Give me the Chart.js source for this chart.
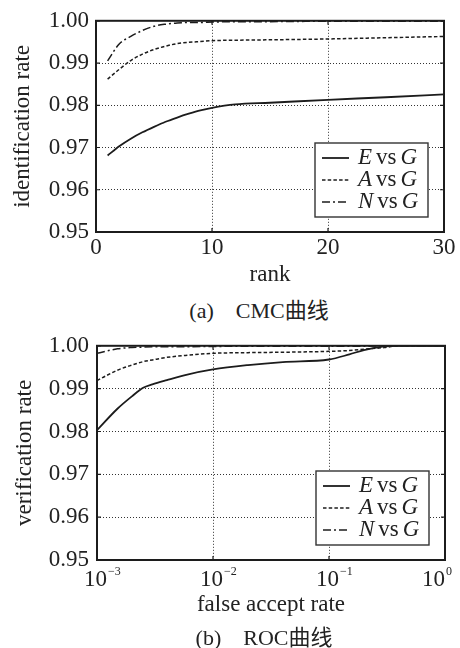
<!DOCTYPE html>
<html>
<head>
<meta charset="utf-8">
<script src="https://cdn.jsdelivr.net/npm/chart.js@4"></script>
<style>
  html, body { margin:0; padding:0; background:#fff; }
  body { width:460px; height:648px; position:relative; overflow:hidden; }
  .box { position:absolute; left:0; width:460px; }
  .cap { position:absolute; transform:translate(-50%,-50%); white-space:nowrap;
         font:22px "Liberation Serif","Noto Sans CJK SC",serif; color:#222; }
</style>
</head>
<body>
<div class="box" style="top:0;height:290px"><canvas id="chart-cmc"></canvas></div>
<div class="cap" style="left:259px;top:308px">(a)&ensp;&ensp;CMC曲线</div>
<div class="box" style="top:324px;height:296px"><canvas id="chart-roc"></canvas></div>
<div class="cap" style="left:264px;top:635px">(b)&ensp;&ensp;ROC曲线</div>

<script>
// ── data ──
const seriesLabels = ['E vs G', 'A vs G', 'N vs G'];
const rateTicks = [0.95, 0.96, 0.97, 0.98, 0.99, 1.00];

// (a) CMC
const ranks = [1, 2, 3, 4, 5, 6, 7, 8, 9, 10, 12, 15, 20, 25, 30];
const cmcE = [0.9681, 0.9703, 0.9721, 0.9736, 0.9749, 0.9761, 0.9771, 0.9780, 0.9788, 0.9794, 0.9802, 0.9806, 0.9813, 0.9819, 0.9826];
const cmcA = [0.9862, 0.9885, 0.9906, 0.9921, 0.9932, 0.9940, 0.9946, 0.9949, 0.9951, 0.9953, 0.9954, 0.9955, 0.9957, 0.9960, 0.9963];
const cmcN = [0.9905, 0.9945, 0.9963, 0.9977, 0.9987, 0.9992, 0.9995, 0.9996, 0.9996, 0.9997, 0.9998, 0.9998, 0.9999, 0.9999, 0.9999];
const rankTicks = [0, 10, 20, 30];

// (b) ROC
const far = [0.001, 0.0015, 0.002, 0.0025, 0.003, 0.004, 0.006, 0.01, 0.02, 0.04, 0.1, 0.15, 0.2, 0.3, 0.4, 1];
const rocE = [0.9803, 0.9853, 0.9882, 0.9902, 0.9910, 0.9920, 0.9933, 0.9945, 0.9955, 0.9962, 0.9968, 0.9980, 0.9990, 0.99985, 1.0, 1.0];
const rocA = [0.9919, 0.9943, 0.9955, 0.9963, 0.9967, 0.9973, 0.9978, 0.99825, 0.9984, 0.9985, 0.9987, 0.9989, 0.9992, 0.9996, 1.0, 1.0];
const rocN = [0.99825, 0.9993, 0.9996, 0.9997, 0.99975, 0.9998, 0.9998, 0.99985, 0.9999, 0.9999, 0.9999, 0.9999, 0.9999, 1.0, 1.0, 1.0];
const farTicks = [0.001, 0.01, 0.1, 1];

// ── styling ──
const SERIF = '"Liberation Serif", "Times New Roman", serif';
const INK = '#1c1c1c';
const lineStyles = [
  { borderDash: [], borderWidth: 1.8 },
  { borderDash: [3.5, 2.2], borderWidth: 1.5 },
  { borderDash: [8, 3, 2, 3], borderWidth: 1.5 },
];

function makeDatasets(xs, ys) {
  return ys.map((vals, i) => ({
    label: seriesLabels[i],
    data: xs.map((x, j) => ({ x, y: vals[j] })),
    borderColor: INK,
    borderWidth: lineStyles[i].borderWidth,
    borderDash: lineStyles[i].borderDash,
    pointRadius: 0,
    fill: false,
    cubicInterpolationMode: 'monotone',
  }));
}

function fixTicks(arr) {
  return s => { s.ticks = arr.map(v => ({ value: v })); };
}

// frame, inner tick marks and the boxed legend
const framePlugin = {
  id: 'frameLegend',
  afterDatasetsDraw(chart) {
    const { ctx, chartArea: a } = chart;
    const w = 113, h = 74;
    const x0 = a.right - 16 - w, y0 = a.bottom - 15 - h;
    ctx.save();
    ctx.fillStyle = '#fff';
    ctx.fillRect(x0, y0, w, h);
    ctx.strokeStyle = '#333';
    ctx.lineWidth = 1.4;
    ctx.strokeRect(x0, y0, w, h);
    chart.data.datasets.forEach((ds, i) => {
      const cy = y0 + 15 + i * 22;
      ctx.strokeStyle = INK;
      ctx.lineWidth = ds.borderWidth;
      ctx.setLineDash(ds.borderDash);
      ctx.beginPath();
      ctx.moveTo(x0 + 7, cy);
      ctx.lineTo(x0 + 34, cy);
      ctx.stroke();
      ctx.setLineDash([]);
      const [p, q] = ds.label.split(' vs ');
      ctx.fillStyle = '#222';
      ctx.textBaseline = 'middle';
      ctx.textAlign = 'left';
      let tx = x0 + 43;
      ctx.font = 'italic 23px ' + SERIF;
      ctx.fillText(p, tx, cy);
      tx += ctx.measureText(p).width + 4;
      ctx.font = '23px ' + SERIF;
      ctx.fillText('vs', tx, cy);
      tx += ctx.measureText('vs').width + 4;
      ctx.font = 'italic 23px ' + SERIF;
      ctx.fillText(q, tx, cy);
    });
    ctx.restore();
  },
  afterDraw(chart) {
    const { ctx, chartArea: a, scales } = chart;
    ctx.save();
    ctx.strokeStyle = INK;
    ctx.lineWidth = 1.2;
    ctx.setLineDash([]);
    ctx.beginPath();
    scales.x.ticks.forEach(t => {
      const px = scales.x.getPixelForValue(t.value);
      ctx.moveTo(px, a.bottom); ctx.lineTo(px, a.bottom - 4);
      ctx.moveTo(px, a.top); ctx.lineTo(px, a.top + 4);
    });
    scales.y.ticks.forEach(t => {
      const py = scales.y.getPixelForValue(t.value);
      ctx.moveTo(a.left, py); ctx.lineTo(a.left + 4, py);
      ctx.moveTo(a.right, py); ctx.lineTo(a.right - 4, py);
    });
    ctx.stroke();
    ctx.lineWidth = 2;
    ctx.strokeRect(a.left, a.top, a.right - a.left, a.bottom - a.top);
    ctx.restore();
  },
};

// 10^n tick labels with a superscript exponent; the last one is pulled inside like the original
const exponentPlugin = {
  id: 'exponents',
  afterDraw(chart) {
    const { ctx, chartArea: a, scales: { x } } = chart;
    ctx.save();
    ctx.fillStyle = '#222';
    ctx.textBaseline = 'middle';
    ctx.textAlign = 'left';
    x.ticks.forEach((t, i) => {
      const e = Math.round(Math.log10(t.value));
      const s = e < 0 ? '\u2212' + (-e) : String(e);
      ctx.font = '23px ' + SERIF;
      const wb = ctx.measureText('10').width;
      ctx.font = '12px ' + SERIF;
      const we = ctx.measureText(s).width;
      const px = x.getPixelForValue(t.value);
      let left = px - wb / 2 - 1.5;
      if (i === x.ticks.length - 1) left = a.right + 7 - wb - we - 1;
      ctx.font = '23px ' + SERIF;
      ctx.fillText('10', left, a.bottom + 20);
      ctx.font = '12px ' + SERIF;
      ctx.fillText(s, left + wb + 1, a.bottom + 11.5);
    });
    ctx.restore();
  },
};

function yScale(title, width, tickPad, titlePad) {
  return {
    min: 0.95, max: 1.0,
    afterBuildTicks: fixTicks(rateTicks),
    afterFit: s => { s.width = width; },
    border: { display: false, dash: [1, 2] },
    grid: { color: '#333', lineWidth: 1, drawTicks: false },
    ticks: { color: '#222', padding: tickPad, font: { family: SERIF, size: 23 }, callback: v => v.toFixed(2) },
    title: { display: true, text: title, color: '#222', padding: { top: titlePad, bottom: 0 }, font: { family: SERIF, size: 23 } },
  };
}

function initCmc() {
  const ctx = document.getElementById('chart-cmc');
  new Chart(ctx, {
    type: 'line',
    data: { datasets: makeDatasets(ranks, [cmcE, cmcA, cmcN]) },
    options: {
      responsive: true, maintainAspectRatio: false, animation: false,
      layout: { padding: { top: 14, right: 16, left: 0, bottom: 0 } },
      plugins: { legend: { display: false }, tooltip: { enabled: false } },
      scales: {
        x: {
          type: 'linear', min: 0, max: 30,
          afterBuildTicks: fixTicks(rankTicks),
          afterFit: s => { s.height = 58; },
          border: { display: false, dash: [1, 2] },
          grid: { color: '#333', lineWidth: 1, drawTicks: false },
          ticks: { color: '#222', padding: 2, maxRotation: 0, font: { family: SERIF, size: 23 } },
          title: { display: true, text: 'rank', color: '#222', padding: { top: 0, bottom: 1 }, font: { family: SERIF, size: 23 } },
        },
        y: yScale('identification rate', 96, 7, 9),
      },
    },
    plugins: [framePlugin],
  });
}

function initRoc() {
  const ctx = document.getElementById('chart-roc');
  new Chart(ctx, {
    type: 'line',
    data: { datasets: makeDatasets(far, [rocE, rocA, rocN]) },
    options: {
      responsive: true, maintainAspectRatio: false, animation: false,
      layout: { padding: { top: 16, right: 15, left: 0, bottom: 0 } },
      plugins: { legend: { display: false }, tooltip: { enabled: false } },
      scales: {
        x: {
          type: 'logarithmic', min: 0.001, max: 1,
          afterBuildTicks: fixTicks(farTicks),
          afterFit: s => { s.height = 60; },
          border: { display: false, dash: [1, 2] },
          grid: { color: '#333', lineWidth: 1, drawTicks: false },
          ticks: { display: false, autoSkip: false },
          title: { display: true, text: 'false accept rate', color: '#222', padding: { top: 0, bottom: 1 }, font: { family: SERIF, size: 23 } },
        },
        y: yScale('verification rate', 97, 8, 11),
      },
    },
    plugins: [framePlugin, exponentPlugin],
  });
}

initCmc();
initRoc();
</script>
</body>
</html>
